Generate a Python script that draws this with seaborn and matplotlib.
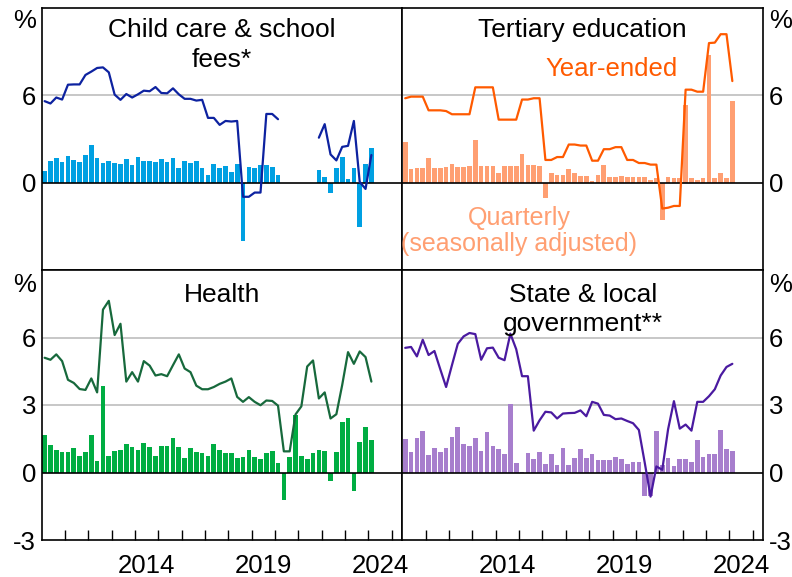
import numpy as np
import pandas as pd
import matplotlib
matplotlib.use("Agg")
import matplotlib.pyplot as plt
import seaborn as sns

# ---------- data: quarterly, 2010 Q1 to 2024 Q1 (mid-quarter) ----------
quarters = 2010.125 + 0.25 * np.arange(57)
nan = np.nan

childcare_q = [0.77, 1.51, 1.72, 1.44, 1.85, 1.58, 1.44, 1.92, 2.6, 1.72,
               1.38, 1.51, 1.38, 1.31, 1.65, 1.24, 1.78, 1.51, 1.51, 1.44,
               1.65, 1.44, 1.72, 1.04, 1.51, 1.38, 1.51, 1.04, 0.5, 1.31,
               1.04, 1.17, 0.7, 1.31, -4.04, 1.1, 1.04, 1.24, 1.24, 1.1,
               0.56, nan, nan, nan, nan, nan, nan,
               0.9, 0.36, -0.72, 1.04, 1.78, 0.23, 1.04, -3.02, 1.31, 2.39]
childcare_ye = [5.6, 5.44, 5.85, 5.71, 6.73, 6.75, 6.75, 7.4, 7.63, 7.88,
                7.92, 7.58, 6.05, 5.69, 6.09, 5.85, 6.07, 6.32, 6.28, 6.57,
                6.16, 6.14, 6.48, 6.07, 5.76, 5.76, 5.64, 5.69, 4.45, 4.45,
                3.97, 4.24, 4.2, 4.24, -0.97, -0.97, -0.68, -0.68, 4.72, 4.72,
                4.36, nan, nan, nan, nan, nan, nan,
                3.09, 4.02, 1.94, 1.53, 2.46, 2.53, 4.24, 0.05, -0.43, 1.9]

tertiary_q = [2.8, 0.97, 1.04, 1.04, 1.72, 1.04, 1.04, 1.1, 1.31, 1.1,
              1.1, 1.17, 2.93, 1.17, 1.17, 1.17, 0.63, 1.17, 1.17, 1.17,
              1.99, 1.24, 1.24, 1.17, -1.04, 0.63, 0.56, 0.5, 0.97, 0.63,
              0.43, 0.43, 0.09, 0.5, 1.24, 0.36, 0.36, 0.43, 0.36, 0.36,
              0.36, 0.36, 0.16, 0.29, -2.57, 0.36, 0.29, 0.29, 5.37, 0.29,
              0.16, 0.29, 8.76, 0.29, 0.63, 0.29, 5.6]
tertiary_ye = [5.8, 5.91, 5.91, 5.91, 4.97, 4.97, 4.97, 4.92, 4.7, 4.7,
               4.7, 4.7, 6.55, 6.55, 6.55, 6.55, 4.33, 4.33, 4.33, 4.33,
               5.71, 5.71, 5.8, 5.8, 1.56, 1.56, 1.76, 1.76, 2.62, 2.62,
               2.55, 2.55, 1.51, 1.51, 2.3, 2.3, 2.44, 2.44, 1.56, 1.56,
               1.35, 1.35, 1.24, 1.24, -1.78, -1.72, -1.6, -1.6, 6.39, 6.39,
               6.25, 6.25, 9.59, 9.62, 10.2, 10.2, 6.98]

health_q = [1.66, 1.21, 0.98, 0.89, 0.89, 1.1, 0.75, 0.89, 1.66, 0.53,
            3.83, 0.75, 0.94, 0.98, 1.25, 1.12, 0.98, 1.3, 1.12, 0.75,
            1.16, 1.16, 1.52, 1.12, 0.66, 1.07, 0.89, 0.85, 0.75, 1.25,
            0.98, 0.85, 0.85, 0.66, 0.71, 0.98, 0.71, 0.62, 0.85, 0.94,
            0.44, -1.24, 0.71, 2.57, 0.75, 0.62, 0.85, 0.98, 0.94, -0.38,
            0.89, 2.25, 2.43, -0.83, 1.34, 2.02, 1.43]
health_ye = [5.1, 5.01, 5.25, 4.95, 4.12, 3.98, 3.71, 3.67, 4.18, 3.56,
             7.24, 7.63, 6.11, 6.61, 4.04, 4.46, 4.04, 4.95, 4.75, 4.31,
             4.37, 4.28, 4.77, 5.25, 4.62, 4.46, 3.86, 3.7, 3.7, 3.8,
             3.94, 4.04, 4.18, 3.36, 3.14, 3.35, 3.14, 2.99, 3.2, 3.18,
             2.97, 0.94, 0.94, 2.58, 2.94, 4.71, 4.98, 3.29, 3.56, 2.4,
             2.59, 3.89, 5.35, 4.83, 5.38, 5.13, 4.04]

state_q = [1.49, 0.9, 1.54, 1.86, 0.77, 1.09, 0.9, 1.09, 1.58, 2.04,
           1.27, 1.18, 1.54, 0.95, 1.81, 1.18, 1.04, 0.81, 3.03, 0.41,
           0.02, 0.86, 0.59, 0.9, 0.36, 0.81, 0.32, 1.09, 0.32, 0.63,
           1.04, 0.63, 0.81, 0.54, 0.54, 0.54, 0.68, 0.59, 0.36, 0.45,
           0.45, -1.04, -1.04, 1.86, 0.32, 0.63, 0.27, 0.59, 0.59, 0.45,
           1.45, 0.7, 0.81, 0.81, 1.9, 1.04, 0.95]
state_ye = [5.54, 5.58, 5.16, 5.9, 5.22, 5.4, 4.59, 3.8, 4.77, 5.72,
            6.05, 6.2, 6.15, 5.01, 5.52, 5.55, 5.1, 4.99, 6.17, 5.48,
            4.28, 4.28, 1.86, 2.32, 2.7, 2.67, 2.4, 2.62, 2.64, 2.65,
            2.76, 2.5, 3.14, 3.06, 2.56, 2.53, 2.37, 2.4, 2.29, 2.19,
            1.89, 0.44, -1.07, 0.27, 0.12, 1.92, 3.17, 1.95, 2.13, 1.86,
            3.14, 3.14, 3.39, 3.7, 4.31, 4.69, 4.83]

year_labels = ["2014", "2019", "2024"]

# ---------- style ----------
sns.set_style("white")
plt.rcParams["font.family"] = ["Liberation Sans", "DejaVu Sans"]
plt.rcParams["text.color"] = "black"
plt.rcParams["xtick.color"] = "black"
plt.rcParams["ytick.color"] = "black"
FS = 18.5
GRID = "#BDBDBD"

fig = plt.figure(figsize=(7.92, 5.77), dpi=100)
L, M, R = 41.7 / 792, 402.3 / 792, 763.3 / 792
T, MID, B = 1 - 8 / 577, 1 - 270 / 577, 1 - 540 / 577


def panel(rect, q, ye, bar_col, line_col, title, right, bottom):
    ax = fig.add_axes(rect)
    df = pd.DataFrame({"date": quarters, "q": q, "ye": ye})
    df["seg"] = df["ye"].isna().cumsum()  # break the line at gaps

    if bottom:
        ylim, ticks, grid = (-3, 9), [-3, 0, 3, 6], [3, 6]
    else:
        ylim, ticks, grid = (-6, 12), [0, 6], [6]
    for g in grid:
        ax.axhline(g, color=GRID, lw=1.2, zorder=0)

    sns.barplot(data=df, x="date", y="q", native_scale=True, width=0.8,
                color=bar_col, saturation=1, errorbar=None, linewidth=0,
                ax=ax, zorder=2)
    ax.axhline(0, color="black", lw=1.2, zorder=2.5)
    sns.lineplot(data=df, x="date", y="ye", units="seg", estimator=None,
                 color=line_col, lw=1.6, ax=ax, zorder=3)

    ax.set_xlim(2010, 2025.45)
    ax.set_ylim(*ylim)
    ax.set_xlabel("")
    ax.set_ylabel("")
    ax.set_yticks(ticks, labels=[str(t) for t in ticks])
    ax.tick_params(axis="y", length=0, labelsize=FS, pad=4, labelcolor="black")
    if right:
        ax.yaxis.tick_right()

    if bottom:
        ax.set_xticks(np.arange(2011, 2026))
        ax.set_xticks([2014.5, 2019.5, 2024.5], labels=year_labels, minor=True)
        ax.tick_params(axis="x", which="major", direction="in", length=7,
                       width=1, labelbottom=False, bottom=True, color="black")
        ax.tick_params(axis="x", which="minor", length=0, labelsize=FS, pad=10,
                       labelcolor="black")
    else:
        ax.set_xticks([])

    for s in ax.spines.values():
        s.set_color("black")
        s.set_linewidth(1.2)

    # % unit label
    dy = -11 if bottom else -9
    if right:
        ax.annotate("%", xy=(1, 1), xycoords="axes fraction", xytext=(4, dy),
                    textcoords="offset points", ha="left", va="center",
                    fontsize=FS, color="black")
    else:
        ax.annotate("%", xy=(0, 1), xycoords="axes fraction", xytext=(-4, dy),
                    textcoords="offset points", ha="right", va="center",
                    fontsize=FS, color="black")

    ax.annotate(title, xy=(0.5, 1), xycoords="axes fraction",
                xytext=(0, -9 if bottom else -7.5), textcoords="offset points",
                ha="center", va="top", fontsize=19, linespacing=1.3,
                color="black")
    return ax


panel([L, MID, M - L, T - MID], childcare_q, childcare_ye, "#00A0E2", "#0D22A0",
      "Child care & school\nfees*", right=False, bottom=False)
ax_te = panel([M, MID, R - M, T - MID], tertiary_q, tertiary_ye, "#FF9F72", "#FF5A00",
              "Tertiary education", right=True, bottom=False)
panel([L, B, M - L, MID - B], health_q, health_ye, "#00AD42", "#17693C",
      "Health", right=False, bottom=True)
panel([M, B, R - M, MID - B], state_q, state_ye, "#A77ECD", "#4A1AA0",
      "State & local\ngovernment**", right=True, bottom=True)

ax_te.text(2018.97, 7.8, "Year-ended", color="#FF5A00", fontsize=18.5,
           ha="center", va="center")
ax_te.text(2015.0, -3.3, "Quarterly\n(seasonally adjusted)", color="#FF9F72",
           fontsize=18, ha="center", va="center", linespacing=1.1)

fig.savefig("out.png", dpi=100)
